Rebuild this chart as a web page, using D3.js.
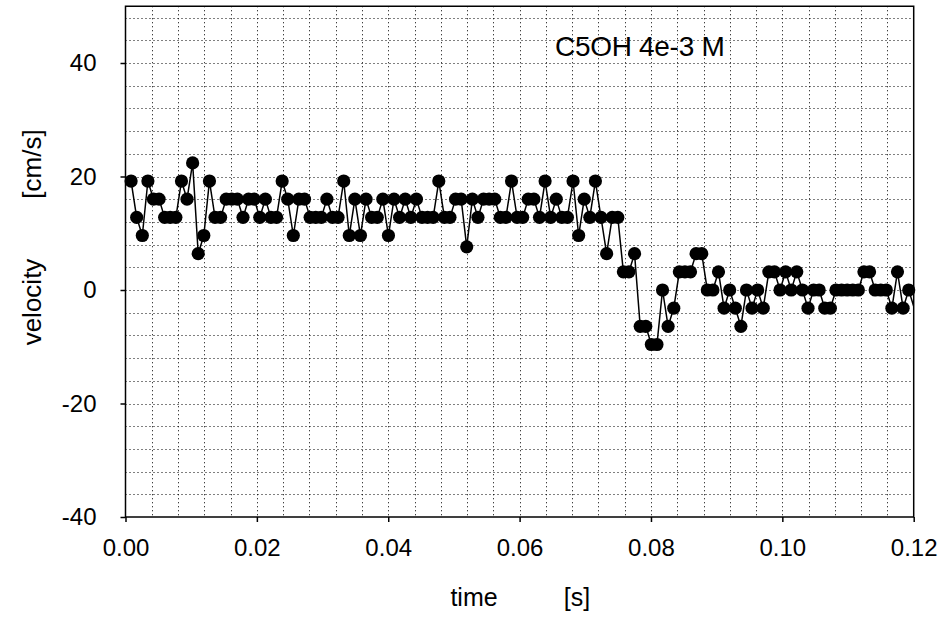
<!DOCTYPE html>
<html><head><meta charset="utf-8">
<script src="https://cdn.jsdelivr.net/npm/d3@7"></script>
<style>
body{margin:0;background:#fff}
svg{display:block}
text{font-family:"Liberation Sans",Arial,sans-serif;fill:#000}
</style>
</head><body>
<svg id="chart" width="947" height="617"></svg>
<script>
const time = [0.00085,0.00170,0.00256,0.00341,0.00426,0.00511,0.00596,0.00681,0.00767,0.00852,
0.00937,0.01022,0.01107,0.01192,0.01278,0.01363,0.01448,0.01533,0.01618,0.01703,
0.01789,0.01874,0.01959,0.02044,0.02129,0.02214,0.02300,0.02385,0.02470,0.02555,
0.02640,0.02725,0.02811,0.02896,0.02981,0.03066,0.03151,0.03236,0.03322,0.03407,
0.03492,0.03577,0.03662,0.03747,0.03833,0.03918,0.04003,0.04088,0.04173,0.04259,
0.04344,0.04429,0.04514,0.04599,0.04684,0.04770,0.04855,0.04940,0.05025,0.05110,
0.05195,0.05281,0.05366,0.05451,0.05536,0.05621,0.05706,0.05792,0.05877,0.05962,
0.06047,0.06132,0.06217,0.06303,0.06388,0.06473,0.06558,0.06643,0.06728,0.06814,
0.06899,0.06984,0.07069,0.07154,0.07239,0.07325,0.07410,0.07495,0.07580,0.07665,
0.07750,0.07836,0.07921,0.08006,0.08091,0.08176,0.08261,0.08347,0.08432,0.08517,
0.08602,0.08687,0.08773,0.08858,0.08943,0.09028,0.09113,0.09198,0.09284,0.09369,
0.09454,0.09539,0.09624,0.09709,0.09795,0.09880,0.09965,0.10050,0.10135,0.10220,
0.10306,0.10391,0.10476,0.10561,0.10646,0.10731,0.10817,0.10902,0.10987,0.11072,
0.11157,0.11242,0.11328,0.11413,0.11498,0.11583,0.11668,0.11753,0.11839,0.11924,
0.12009];

const velocity = [19.2,12.8,9.6,19.2,16.0,16.0,12.8,12.8,12.8,19.2,
16.0,22.4,6.4,9.6,19.2,12.8,12.8,16.0,16.0,16.0,
12.8,16.0,16.0,12.8,16.0,12.8,12.8,19.2,16.0,9.6,
16.0,16.0,12.8,12.8,12.8,16.0,12.8,12.8,19.2,9.6,
16.0,9.6,16.0,12.8,12.8,16.0,9.6,16.0,12.8,16.0,
12.8,16.0,12.8,12.8,12.8,19.2,12.8,12.8,16.0,16.0,
7.6,16.0,12.8,16.0,16.0,16.0,12.8,12.8,19.2,12.8,
12.8,16.0,16.0,12.8,19.2,12.8,16.0,12.8,12.8,19.2,
9.6,16.0,12.8,19.2,12.8,6.4,12.8,12.8,3.2,3.2,
6.4,-6.4,-6.4,-9.6,-9.6,0,-6.4,-3.2,3.2,3.2,
3.2,6.4,6.4,0,0,3.2,-3.2,0,-3.2,-6.4,
0,-3.2,0,-3.2,3.2,3.2,0,3.2,0,3.2,
0,-3.2,0,0,-3.2,-3.2,0,0,0,0,
0,3.2,3.2,0,0,0,-3.2,3.2,-3.2,0,
-3.2];

const xTicks = [0, 0.02, 0.04, 0.06, 0.08, 0.10, 0.12];
const xTickLabels = ["0.00","0.02","0.04","0.06","0.08","0.10","0.12"];
const yTicks = [-40, -20, 0, 20, 40];
const yTickLabels = ["-40","-20","0","20","40"];
const xDomain = [0, 0.12];
const yDomain = [-40, 50];
const xGridStep = 0.004;
const yGridStep = 4;
const annotation = "C5OH 4e-3 M";
const xTitle = ["time", "[s]"];
const yTitle = ["velocity", "[cm/s]"];

const svg = d3.select("#chart");
const L = 125.5, R = 913.7, T = 6.25, B = 517;
const x = d3.scaleLinear().domain(xDomain).range([L, R]);
const y = d3.scaleLinear().domain(yDomain).range([B, T]);

// grid
const xGrid = d3.range(xDomain[0] + xGridStep, xDomain[1] - xGridStep/2, xGridStep);
const yGrid = d3.range(yDomain[0] + yGridStep, yDomain[1] - 0.5, yGridStep);
const grid = svg.append("g").attr("stroke", "#000").attr("stroke-width", 1).attr("stroke-dasharray", "1,3");
grid.selectAll("line.v").data(xGrid).join("line").attr("class","v")
  .attr("x1", d => Math.round(x(d)) + 0.5).attr("x2", d => Math.round(x(d)) + 0.5)
  .attr("y1", T).attr("y2", B);
grid.selectAll("line.h").data(yGrid).join("line").attr("class","h")
  .attr("y1", d => Math.round(y(d)) + 0.5).attr("y2", d => Math.round(y(d)) + 0.5)
  .attr("x1", L).attr("x2", R);

// frame
svg.append("rect").attr("x", L).attr("y", T).attr("width", R - L).attr("height", B - T)
  .attr("fill", "none").attr("stroke", "#000").attr("stroke-width", 1.5);

// axes
const fs = 24;
const xAxis = svg.append("g").attr("transform", `translate(0,${B})`)
  .call(d3.axisBottom(x).tickValues(xTicks).tickFormat((d, i) => xTickLabels[i]).tickSize(5).tickPadding(17));
const yAxis = svg.append("g").attr("transform", `translate(${L},0)`)
  .call(d3.axisLeft(y).tickValues(yTicks).tickFormat((d, i) => yTickLabels[i]).tickSize(5).tickPadding(24));
[xAxis, yAxis].forEach(g => {
  g.select(".domain").remove();
  g.selectAll(".tick line").attr("stroke", "#000").attr("stroke-width", 1.5);
  g.selectAll(".tick text").attr("font-size", fs).attr("font-family", "Liberation Sans, Arial, sans-serif").attr("fill", "#000");
});

// data
const data = time.map((t, i) => ({t, v: velocity[i]}));
svg.append("defs").append("clipPath").attr("id", "clip")
  .append("rect").attr("x", L).attr("y", T).attr("width", R - L).attr("height", B - T);
const line = d3.line().x(d => x(d.t)).y(d => y(d.v));
svg.append("path").datum(data).attr("clip-path", "url(#clip)")
  .attr("fill", "none").attr("stroke", "#000").attr("stroke-width", 1.5).attr("d", line);
svg.append("g").selectAll("circle").data(data.filter(d => d.t <= xDomain[1])).join("circle")
  .attr("cx", d => x(d.t)).attr("cy", d => y(d.v)).attr("r", 6.6).attr("fill", "#000");

// annotation
svg.append("text").attr("x", 555).attr("y", 56).attr("font-size", 28).attr("letter-spacing", -0.3).text(annotation);

// axis titles
svg.append("text").attr("x", 474).attr("y", 606).attr("text-anchor", "middle").attr("font-size", 25).text(xTitle[0]);
svg.append("text").attr("x", 577).attr("y", 606).attr("text-anchor", "middle").attr("font-size", 25).text(xTitle[1]);
svg.append("text").attr("transform", "translate(41,302) rotate(-90)").attr("text-anchor", "middle").attr("font-size", 26).text(yTitle[0]);
svg.append("text").attr("transform", "translate(41,164) rotate(-90)").attr("text-anchor", "middle").attr("font-size", 26).text(yTitle[1]);
</script>
</body></html>
